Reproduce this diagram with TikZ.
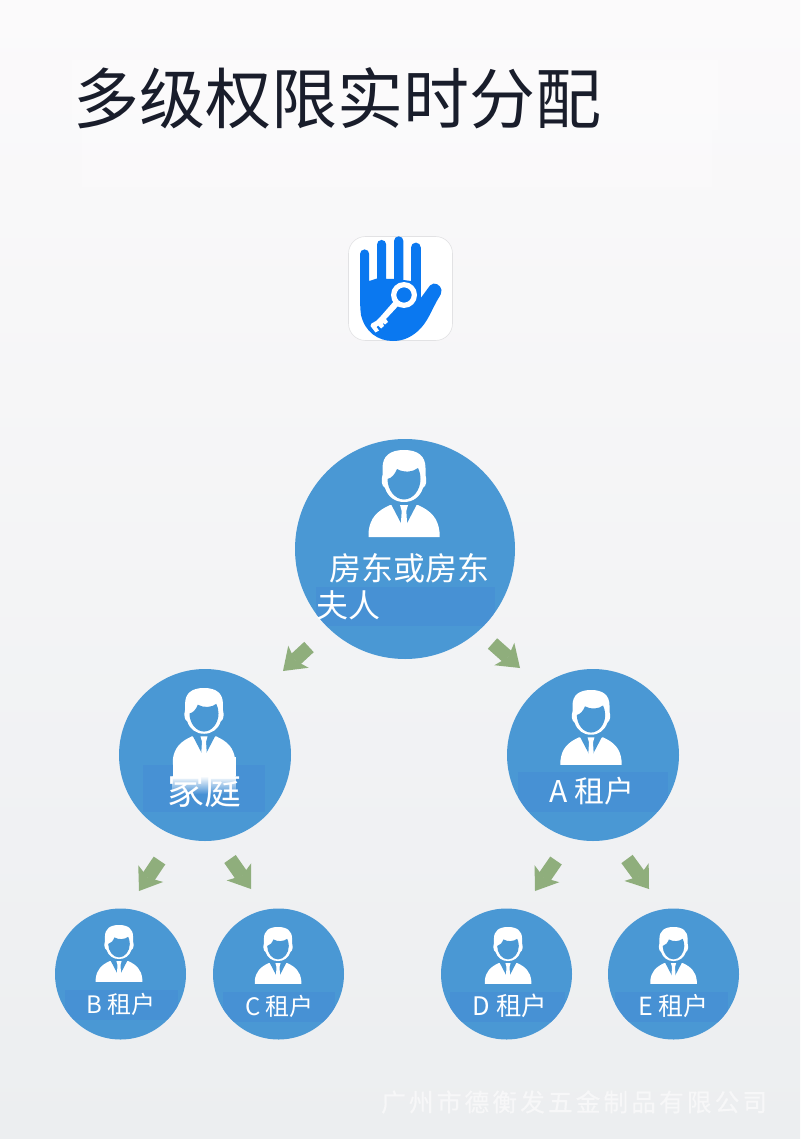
\documentclass[tikz,border=0pt]{standalone}
\usepackage{fontspec}
\setmainfont{Noto Sans CJK SC}
\usetikzlibrary{arrows.meta,shapes.geometric}
\definecolor{bubblec}{HTML}{4A98D4}
\definecolor{bandc}{HTML}{478FD5}
\definecolor{flowc}{HTML}{8FAE7C}
\definecolor{titlec}{HTML}{191D2B}
\definecolor{handc}{HTML}{0A78F0}
\newcommand{\fs}[1]{\fontsize{#1}{#1}\selectfont}
\newcommand{\clipband}[7]{\begin{scope}\clip (#1,#2) circle[radius=#3]; \fill[band] (#4,#5) rectangle (#6,#7);\end{scope}}
\tikzset{
  x=1pt,y=-1pt,
  bubble/.style={circle,fill=bubblec,draw=none,inner sep=0pt},
  label/.style={text=white,inner sep=0pt,anchor=center},
  band/.style={fill=bandc,draw=none,opacity=.75},
  flow/.style={draw=flowc,line width=14pt,-{Stealth[length=21pt,width=30pt,inset=5pt,fill=flowc,line width=0pt]}},
  person/.pic={
    % head
    \fill[white] (0,0) .. controls (-14,0) and (-21.5,6) .. (-21.5,18) -- (-21.5,25)
      .. controls (-23,30) and (-22.5,36) .. (-19,38)
      .. controls (-16,47) and (-9,52) .. (0,52)
      .. controls (9,52) and (16,47) .. (19,38)
      .. controls (22.5,36) and (23,30) .. (21.5,25) -- (21.5,18)
      .. controls (21.5,6) and (14,0) .. (0,0) -- cycle;
    \fill[bubblec] (-16.5,29) .. controls (-12,28) and (-9,24) .. (-7,19)
      .. controls (0,23) and (9,22) .. (14,18)
      .. controls (15.5,21) and (16.5,25) .. (16.5,29)
      .. controls (16.5,40) and (9,49.5) .. (0,49.5)
      .. controls (-9,49.5) and (-16.5,40) .. (-16.5,29) -- cycle;
    % body
    \fill[white] (-35.5,87) -- (-35.5,82) .. controls (-34,68) and (-27,61) .. (-14,55)
      -- (14,55) .. controls (27,61) and (34,68) .. (35.5,82) -- (35.5,87) -- cycle;
    \fill[bubblec] (-13,54) -- (-1,77) -- (1,77) -- (13,54) -- cycle;
    \fill[white] (-4,55) -- (4,55) -- (2.3,61) -- (3.5,80) -- (0,85) -- (-3.5,80) -- (-2.3,61) -- cycle;
  },
}
\begin{document}
\begin{tikzpicture}
\useasboundingbox (0,0) rectangle (800,1139);
% background
\shade[top color={rgb,255:red,251;green,250;blue,251},middle color={rgb,255:red,245;green,246;blue,247},bottom color={rgb,255:red,236;green,238;blue,240}] (0,0) rectangle (800,1139);
\fill[white,opacity=.2] (72,60) rectangle (718,130);
\fill[white,opacity=.2] (82,130) rectangle (712,187);
% title
\node[anchor=west,text=titlec,inner sep=0pt] (title) at (73,98) {\fs{66}多级权限实时分配};
% icon
\node[draw={rgb,255:red,226;green,226;blue,228},line width=.6pt,fill=white,rounded corners=17pt,minimum size=104pt,inner sep=0pt] (icon) at (400.5,288.5) {};
\fill[handc] (360,254) arc (180:360:4.6) -- (369.2,281) -- (377,278.5) -- (377,244.5) arc (180:360:4.6) -- (386.2,279) -- (394,279) -- (394,241) arc (180:360:4.7) -- (403.4,280) -- (411,281) -- (411,247.5) arc (180:360:4.9) -- (420.8,298)
  -- (430,285.5) .. controls (434,281) and (441,285) .. (441.5,290) .. controls (442,293) and (440,296) .. (438,299)
  .. controls (432,309) and (428,322) .. (418,331) .. controls (410,338) and (402,341) .. (393,341)
  .. controls (378,341) and (365,332) .. (361,315) .. controls (360,308) and (360,300) .. (360,292) -- cycle;
\fill[white,even odd rule] (404,295) circle[radius=13] circle[radius=7.7];
\fill[white] (395,300) -- (399.5,304.5) -- (386,319) -- (388,322) -- (385,324.5) -- (382.5,322.5) -- (384,326) -- (381,328.5) -- (378,325.5) -- (376.5,327) -- (379,330.5) -- (375.5,332.5) -- (370.5,326) -- (371.5,323.5) -- (376,321) -- (381,316) -- cycle;
% circles
\node[bubble,minimum size=220pt] (root) at (405,549) {};
\node[bubble,minimum size=172pt] (family) at (205,755) {};
\node[bubble,minimum size=172pt] (tenantA) at (593,755) {};
\node[bubble,minimum size=131pt] (tenantB) at (120.5,974) {};
\node[bubble,minimum size=131pt] (tenantC) at (278.5,974) {};
\node[bubble,minimum size=131pt] (tenantD) at (506.5,974) {};
\node[bubble,minimum size=131pt] (tenantE) at (673.5,974) {};
% bands
\clipband{405}{549}{110}{316}{587}{495}{626}
\clipband{205}{755}{86}{143}{765}{265}{812}
\clipband{593}{755}{86}{518}{772}{668}{812}
\clipband{120.5}{974}{65.5}{65}{990}{178}{1020}
\clipband{278.5}{974}{65.5}{223}{992}{335}{1022}
\clipband{506.5}{974}{65.5}{450}{992}{565}{1022}
\clipband{673.5}{974}{65.5}{615}{992}{728}{1022}
% persons
\pic at (404,450) {person};
\pic[scale=.88] at (204,688) {person};
\pic[scale=.86] at (591,690) {person};
\pic[scale=.655] at (119,925) {person};
\pic[scale=.655] at (278,927) {person};
\pic[scale=.655] at (508,927) {person};
\pic[scale=.655] at (673.5,927) {person};
% family person body running into its label
\fill[white] (172.5,757) rectangle (235.5,776);
\shade[top color=white,bottom color=bandc!80!bubblec] (172.5,776) rectangle (235.5,794);
% labels
\node[label,anchor=west] (t1) at (329,568) {\fs{32}房东或房东};
\node[label,anchor=west] (t2) at (316,605) {\fs{32}夫人};
\node[label] (t3) at (204,790) {\fs{37}家庭};
\node[label] (t4) at (592,791) {\fs{30}A 租户};
\node[label] (t5) at (121,1004) {\fs{24}B 租户};
\node[label] (t6) at (279.5,1006) {\fs{24}C 租户};
\node[label] (t7) at (510,1006) {\fs{25.5}D 租户};
\node[label] (t8) at (673.5,1006) {\fs{25}E 租户};
% arrows
\coordinate (a1s) at (309,647);   \coordinate (a1e) at (283,671);
\coordinate (a2s) at (492.5,643.5); \coordinate (a2e) at (520,668);
\coordinate (a3s) at (159.5,860.5); \coordinate (a3e) at (139,891);
\coordinate (a4s) at (230,859);   \coordinate (a4e) at (251,889);
\coordinate (a5s) at (556,860.5); \coordinate (a5e) at (535,891);
\coordinate (a6s) at (627,859);   \coordinate (a6e) at (649,889);
\draw[flow] (a1s) -- (a1e);
\draw[flow] (a2s) -- (a2e);
\draw[flow] (a3s) -- (a3e);
\draw[flow] (a4s) -- (a4e);
\draw[flow] (a5s) -- (a5e);
\draw[flow] (a6s) -- (a6e);
% footer
\node[anchor=west,inner sep=0pt,text={rgb,255:red,247;green,247;blue,248}] (footer) at (381,1102) {\addfontfeatures{LetterSpace=12.5,FakeBold=.5}\fs{24.7}广州市德衡发五金制品有限公司};
\end{tikzpicture}
\end{document}
